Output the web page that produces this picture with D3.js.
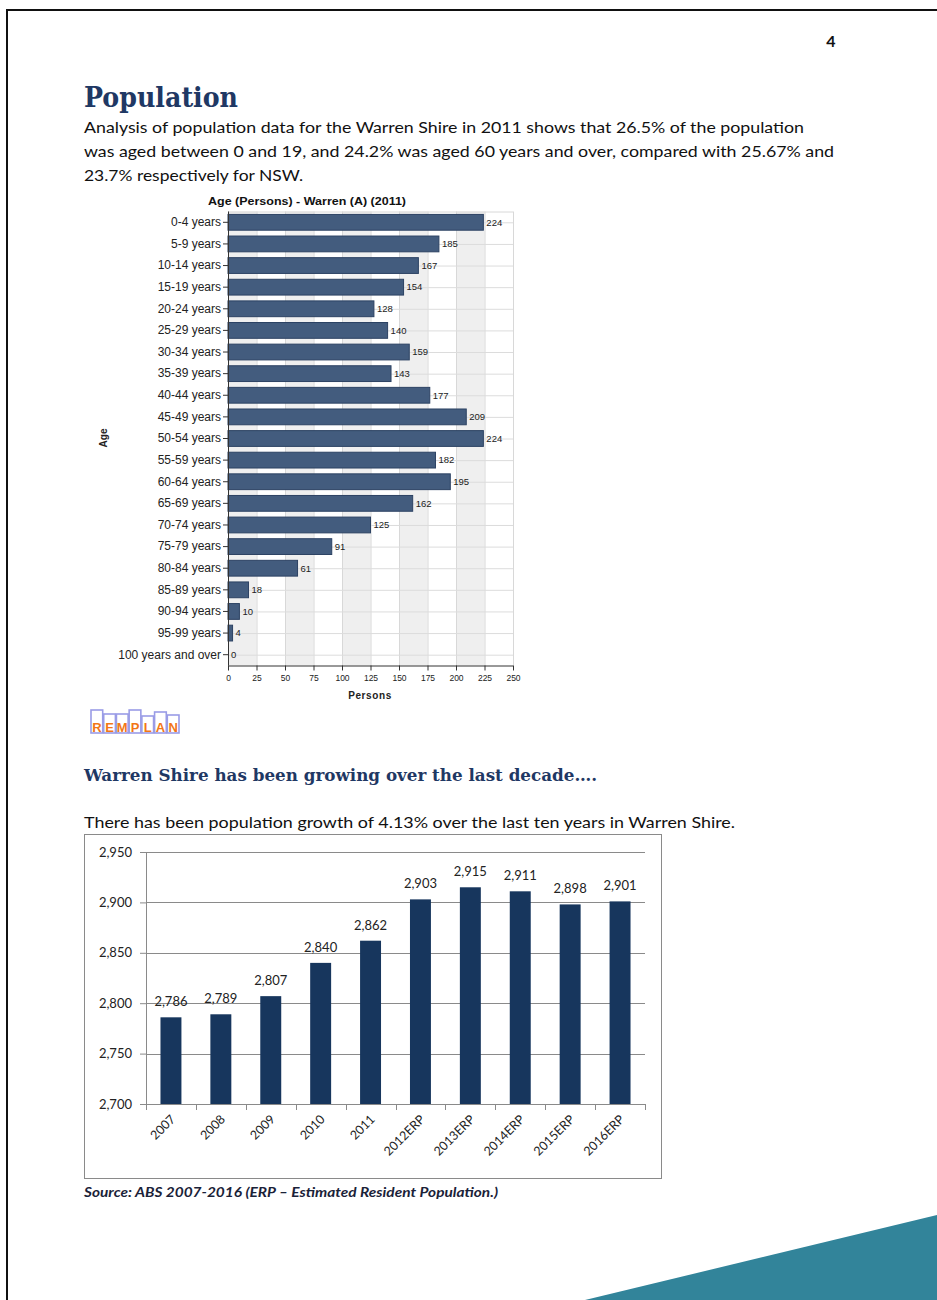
<!DOCTYPE html>
<html>
<head>
<meta charset="utf-8">
<script src="https://cdn.jsdelivr.net/npm/d3@7"></script>
<style>
  html, body { margin: 0; padding: 0; background: #fff; }
  svg { display: block; }
</style>
</head>
<body>
<svg id="page" width="937" height="1300"></svg>
<script>
// Age structure, Warren Shire, 2011 (persons)
const ageGroups = [
  "0-4 years", "5-9 years", "10-14 years", "15-19 years", "20-24 years",
  "25-29 years", "30-34 years", "35-39 years", "40-44 years", "45-49 years",
  "50-54 years", "55-59 years", "60-64 years", "65-69 years", "70-74 years",
  "75-79 years", "80-84 years", "85-89 years", "90-94 years", "95-99 years",
  "100 years and over"
];
const agePersons = [224, 185, 167, 154, 128, 140, 159, 143, 177, 209, 224, 182, 195, 162, 125, 91, 61, 18, 10, 4, 0];
const personTicks = [0, 25, 50, 75, 100, 125, 150, 175, 200, 225, 250];

// Estimated resident population by year
const years = ["2007", "2008", "2009", "2010", "2011", "2012ERP", "2013ERP", "2014ERP", "2015ERP", "2016ERP"];
const residents = [2786, 2789, 2807, 2840, 2862, 2903, 2915, 2911, 2898, 2901];
const residentTicks = [2700, 2750, 2800, 2850, 2900, 2950];

// REMPLAN wordmark letters and the height of each letter's box
const logoLetters = ["R", "E", "M", "P", "L", "A", "N"];
const logoBoxHeights = [23, 19, 19, 23, 17, 21, 18];

const svg = d3.select("#page");
const bodyFont = "Lato, 'Open Sans', sans-serif";
const slabFont = "'DejaVu Serif', serif";
const chartFont = "'Liberation Sans', Arial, sans-serif";
const navy = "#1f3864";

// ---------- page frame and decoration ----------
svg.append("path")
  .attr("d", "M7,1300 V10 H937")
  .attr("fill", "none").attr("stroke", "#111").attr("stroke-width", 2);

svg.append("polygon")
  .attr("points", "585,1300 937,1215 937,1300")
  .attr("fill", "#32849a");

svg.append("text")
  .attr("x", 831).attr("y", 47).attr("text-anchor", "middle")
  .attr("font-family", bodyFont).attr("font-weight", "bold").attr("font-size", 16).attr("fill", "#111")
  .text("4");

// ---------- heading and introduction ----------
svg.append("text")
  .attr("x", 84).attr("y", 107)
  .attr("font-family", slabFont).attr("font-weight", "bold").attr("font-size", 27)
  .attr("fill", navy)
  .attr("textLength", 154).attr("lengthAdjust", "spacingAndGlyphs")
  .text("Population");

const introLines = [
  { t: "Analysis of population data for the Warren Shire in 2011 shows that 26.5% of the population", w: 720 },
  { t: "was aged between 0 and 19, and 24.2% was aged 60 years and over, compared with 25.67% and", w: 750 },
  { t: "23.7% respectively for NSW.", w: 219 }
];
svg.append("g").selectAll("text").data(introLines).join("text")
  .attr("x", 84).attr("y", (d, i) => 133 + i * 24)
  .attr("font-family", bodyFont).attr("font-size", 16).attr("fill", "#111")
  .attr("textLength", d => d.w).attr("lengthAdjust", "spacingAndGlyphs")
  .text(d => d.t);

// ---------- age chart (horizontal bars) ----------
const ageX = d3.scaleLinear().domain([0, 250]).range([228, 513]);
const ageY = d3.scaleBand().domain(ageGroups).range([211.5, 665.5]).paddingInner(0.27).paddingOuter(0.135);
const ageTop = 211.5, ageBottom = 665.5;

const ageChart = svg.append("g");

// alternating vertical bands
ageChart.append("g").selectAll("rect")
  .data(personTicks.slice(0, -1).filter((d, i) => i % 2 === 0))
  .join("rect")
  .attr("x", d => ageX(d)).attr("width", d => ageX(d + 25) - ageX(d))
  .attr("y", ageTop).attr("height", ageBottom - ageTop)
  .attr("fill", "#efefef");

// vertical grid lines
ageChart.append("g").selectAll("line").data(personTicks).join("line")
  .attr("x1", d => ageX(d) + 0.5).attr("x2", d => ageX(d) + 0.5)
  .attr("y1", ageTop).attr("y2", ageBottom)
  .attr("stroke", "#d8d8d8");

// horizontal grid lines through each row
ageChart.append("g").selectAll("line").data(ageGroups).join("line")
  .attr("x1", ageX(0)).attr("x2", ageX(250))
  .attr("y1", d => ageY(d) + ageY.bandwidth() / 2 + 0.5)
  .attr("y2", d => ageY(d) + ageY.bandwidth() / 2 + 0.5)
  .attr("stroke", "#dcdcdc");

ageChart.append("line")
  .attr("x1", ageX(0)).attr("x2", ageX(250))
  .attr("y1", ageTop + 0.5).attr("y2", ageTop + 0.5)
  .attr("stroke", "#d8d8d8");

// bars
ageChart.append("g").selectAll("rect")
  .data(ageGroups.map((g, i) => ({ g, v: agePersons[i] })))
  .join("rect")
  .attr("x", ageX(0))
  .attr("y", d => ageY(d.g))
  .attr("width", d => ageX(d.v) - ageX(0))
  .attr("height", ageY.bandwidth())
  .attr("fill", "#435c7e")
  .attr("stroke", d => d.v > 0 ? "#2c4263" : "none")
  .attr("stroke-width", 1);

// value labels
ageChart.append("g").selectAll("text")
  .data(ageGroups.map((g, i) => ({ g, v: agePersons[i] })))
  .join("text")
  .attr("x", d => ageX(d.v) + 3)
  .attr("y", d => ageY(d.g) + ageY.bandwidth() / 2)
  .attr("dy", "0.35em")
  .attr("font-family", chartFont).attr("font-size", 9.5).attr("fill", "#222")
  .text(d => d.v);

// axes
const ageYAxis = ageChart.append("g")
  .attr("transform", `translate(${ageX(0)},0)`)
  .call(d3.axisLeft(ageY).tickSize(5).tickPadding(2));
ageYAxis.select(".domain").attr("stroke", "#333").attr("d", `M0.5,${ageTop}V${ageBottom}`);
ageYAxis.selectAll(".tick line").attr("stroke", "#333");
ageYAxis.selectAll(".tick text")
  .attr("font-family", chartFont).attr("font-size", 12).attr("fill", "#222");

const ageXAxis = ageChart.append("g")
  .attr("transform", `translate(0,${ageBottom})`)
  .call(d3.axisBottom(ageX).tickValues(personTicks).tickSize(5).tickPadding(4));
ageXAxis.select(".domain").attr("stroke", "#333").attr("d", `M${ageX(0)},0.5H${ageX(250)}`);
ageXAxis.selectAll(".tick line").attr("stroke", "#333");
ageXAxis.selectAll(".tick text")
  .attr("font-family", chartFont).attr("font-size", 8.5).attr("fill", "#222");

// titles
ageChart.append("text")
  .attr("x", 307).attr("y", 205).attr("text-anchor", "middle")
  .attr("font-family", chartFont).attr("font-weight", "bold").attr("font-size", 11)
  .attr("fill", "#111")
  .attr("textLength", 198).attr("lengthAdjust", "spacingAndGlyphs")
  .text("Age (Persons) - Warren (A) (2011)");

ageChart.append("text")
  .attr("x", 370).attr("y", 699).attr("text-anchor", "middle")
  .attr("font-family", chartFont).attr("font-weight", "bold").attr("font-size", 10)
  .attr("fill", "#222").attr("letter-spacing", 0.6)
  .text("Persons");

ageChart.append("text")
  .attr("transform", "translate(107,438) rotate(-90)").attr("text-anchor", "middle")
  .attr("font-family", chartFont).attr("font-weight", "bold").attr("font-size", 10)
  .attr("fill", "#222")
  .text("Age");

// ---------- REMPLAN wordmark ----------
const logo = svg.append("g");
const logoX = d3.scaleBand().domain(logoLetters).range([91, 179]).paddingInner(0.08);
logo.selectAll("rect").data(logoLetters).join("rect")
  .attr("x", d => logoX(d)).attr("width", logoX.bandwidth())
  .attr("y", (d, i) => 733 - logoBoxHeights[i]).attr("height", (d, i) => logoBoxHeights[i])
  .attr("fill", "#fff").attr("stroke", "#9a9ce6").attr("stroke-width", 1.6);
logo.selectAll("text").data(logoLetters).join("text")
  .attr("x", d => logoX(d) + logoX.bandwidth() / 2).attr("y", 732)
  .attr("text-anchor", "middle")
  .attr("font-family", chartFont).attr("font-weight", "bold").attr("font-size", 13)
  .attr("fill", "#f27616")
  .text(d => d);

// ---------- growth section ----------
svg.append("text")
  .attr("x", 84).attr("y", 781)
  .attr("font-family", slabFont).attr("font-weight", "bold").attr("font-size", 16)
  .attr("fill", navy)
  .attr("textLength", 513).attr("lengthAdjust", "spacingAndGlyphs")
  .text("Warren Shire has been growing over the last decade….");

svg.append("text")
  .attr("x", 84).attr("y", 828)
  .attr("font-family", bodyFont).attr("font-size", 16).attr("fill", "#111")
  .attr("textLength", 651).attr("lengthAdjust", "spacingAndGlyphs")
  .text("There has been population growth of 4.13% over the last ten years in Warren Shire.");

// chart frame
svg.append("rect")
  .attr("x", 84.5).attr("y", 834.5).attr("width", 577).attr("height", 344)
  .attr("fill", "#fff").attr("stroke", "#8a8a8a").attr("stroke-width", 1);

const popX = d3.scaleBand().domain(years).range([146, 645]).paddingInner(0.58).paddingOuter(0.29);
const popY = d3.scaleLinear().domain([2700, 2950]).range([1104, 852]);

const popChart = svg.append("g");

// horizontal grid lines
popChart.append("g").selectAll("line").data(residentTicks).join("line")
  .attr("x1", 146).attr("x2", 645)
  .attr("y1", d => Math.round(popY(d)) + 0.5).attr("y2", d => Math.round(popY(d)) + 0.5)
  .attr("stroke", "#8a8a8a");

// bars
popChart.append("g").selectAll("rect")
  .data(years.map((y, i) => ({ y, v: residents[i] })))
  .join("rect")
  .attr("x", d => popX(d.y))
  .attr("y", d => popY(d.v))
  .attr("width", popX.bandwidth())
  .attr("height", d => popY(2700) - popY(d.v))
  .attr("fill", "#17365d");

// value labels
popChart.append("g").selectAll("text")
  .data(years.map((y, i) => ({ y, v: residents[i] })))
  .join("text")
  .attr("x", d => popX(d.y) + popX.bandwidth() / 2)
  .attr("y", d => popY(d.v) - 11)
  .attr("text-anchor", "middle")
  .attr("font-family", bodyFont).attr("font-size", 13).attr("fill", "#222")
  .text(d => d3.format(",")(d.v));

// y axis
const popYAxis = popChart.append("g")
  .attr("transform", "translate(146,0)")
  .call(d3.axisLeft(popY).tickValues(residentTicks).tickFormat(d3.format(",")).tickSize(6).tickPadding(8));
popYAxis.select(".domain").attr("stroke", "#8a8a8a").attr("d", "M0.5,852V1104");
popYAxis.selectAll(".tick line").attr("stroke", "#8a8a8a");
popYAxis.selectAll(".tick text")
  .attr("font-family", bodyFont).attr("font-size", 13).attr("fill", "#222");

// x axis: ticks at band boundaries, rotated labels
const boundaries = years.map(y => popX(y) - popX.step() * popX.paddingInner() / 2).concat([645]);
const popXAxis = popChart.append("g");
popXAxis.append("line")
  .attr("x1", 146).attr("x2", 645).attr("y1", 1104.5).attr("y2", 1104.5)
  .attr("stroke", "#8a8a8a");
popXAxis.selectAll("line.tick").data(boundaries).join("line")
  .attr("class", "tick")
  .attr("x1", d => Math.round(d) + 0.5).attr("x2", d => Math.round(d) + 0.5)
  .attr("y1", 1104).attr("y2", 1110)
  .attr("stroke", "#8a8a8a");
popXAxis.selectAll("text").data(years).join("text")
  .attr("transform", d => `translate(${popX(d) + popX.bandwidth() / 2 + 2},1117) rotate(-45)`)
  .attr("text-anchor", "end").attr("dy", "0.35em")
  .attr("font-family", bodyFont).attr("font-size", 12.5).attr("fill", "#222")
  .text(d => d);

// source note
svg.append("text")
  .attr("x", 84).attr("y", 1197)
  .attr("font-family", bodyFont).attr("font-weight", "bold").attr("font-style", "italic")
  .attr("font-size", 13).attr("fill", "#1a2238")
  .attr("textLength", 414).attr("lengthAdjust", "spacingAndGlyphs")
  .text("Source: ABS 2007-2016 (ERP – Estimated Resident Population.)");
</script>
</body>
</html>
